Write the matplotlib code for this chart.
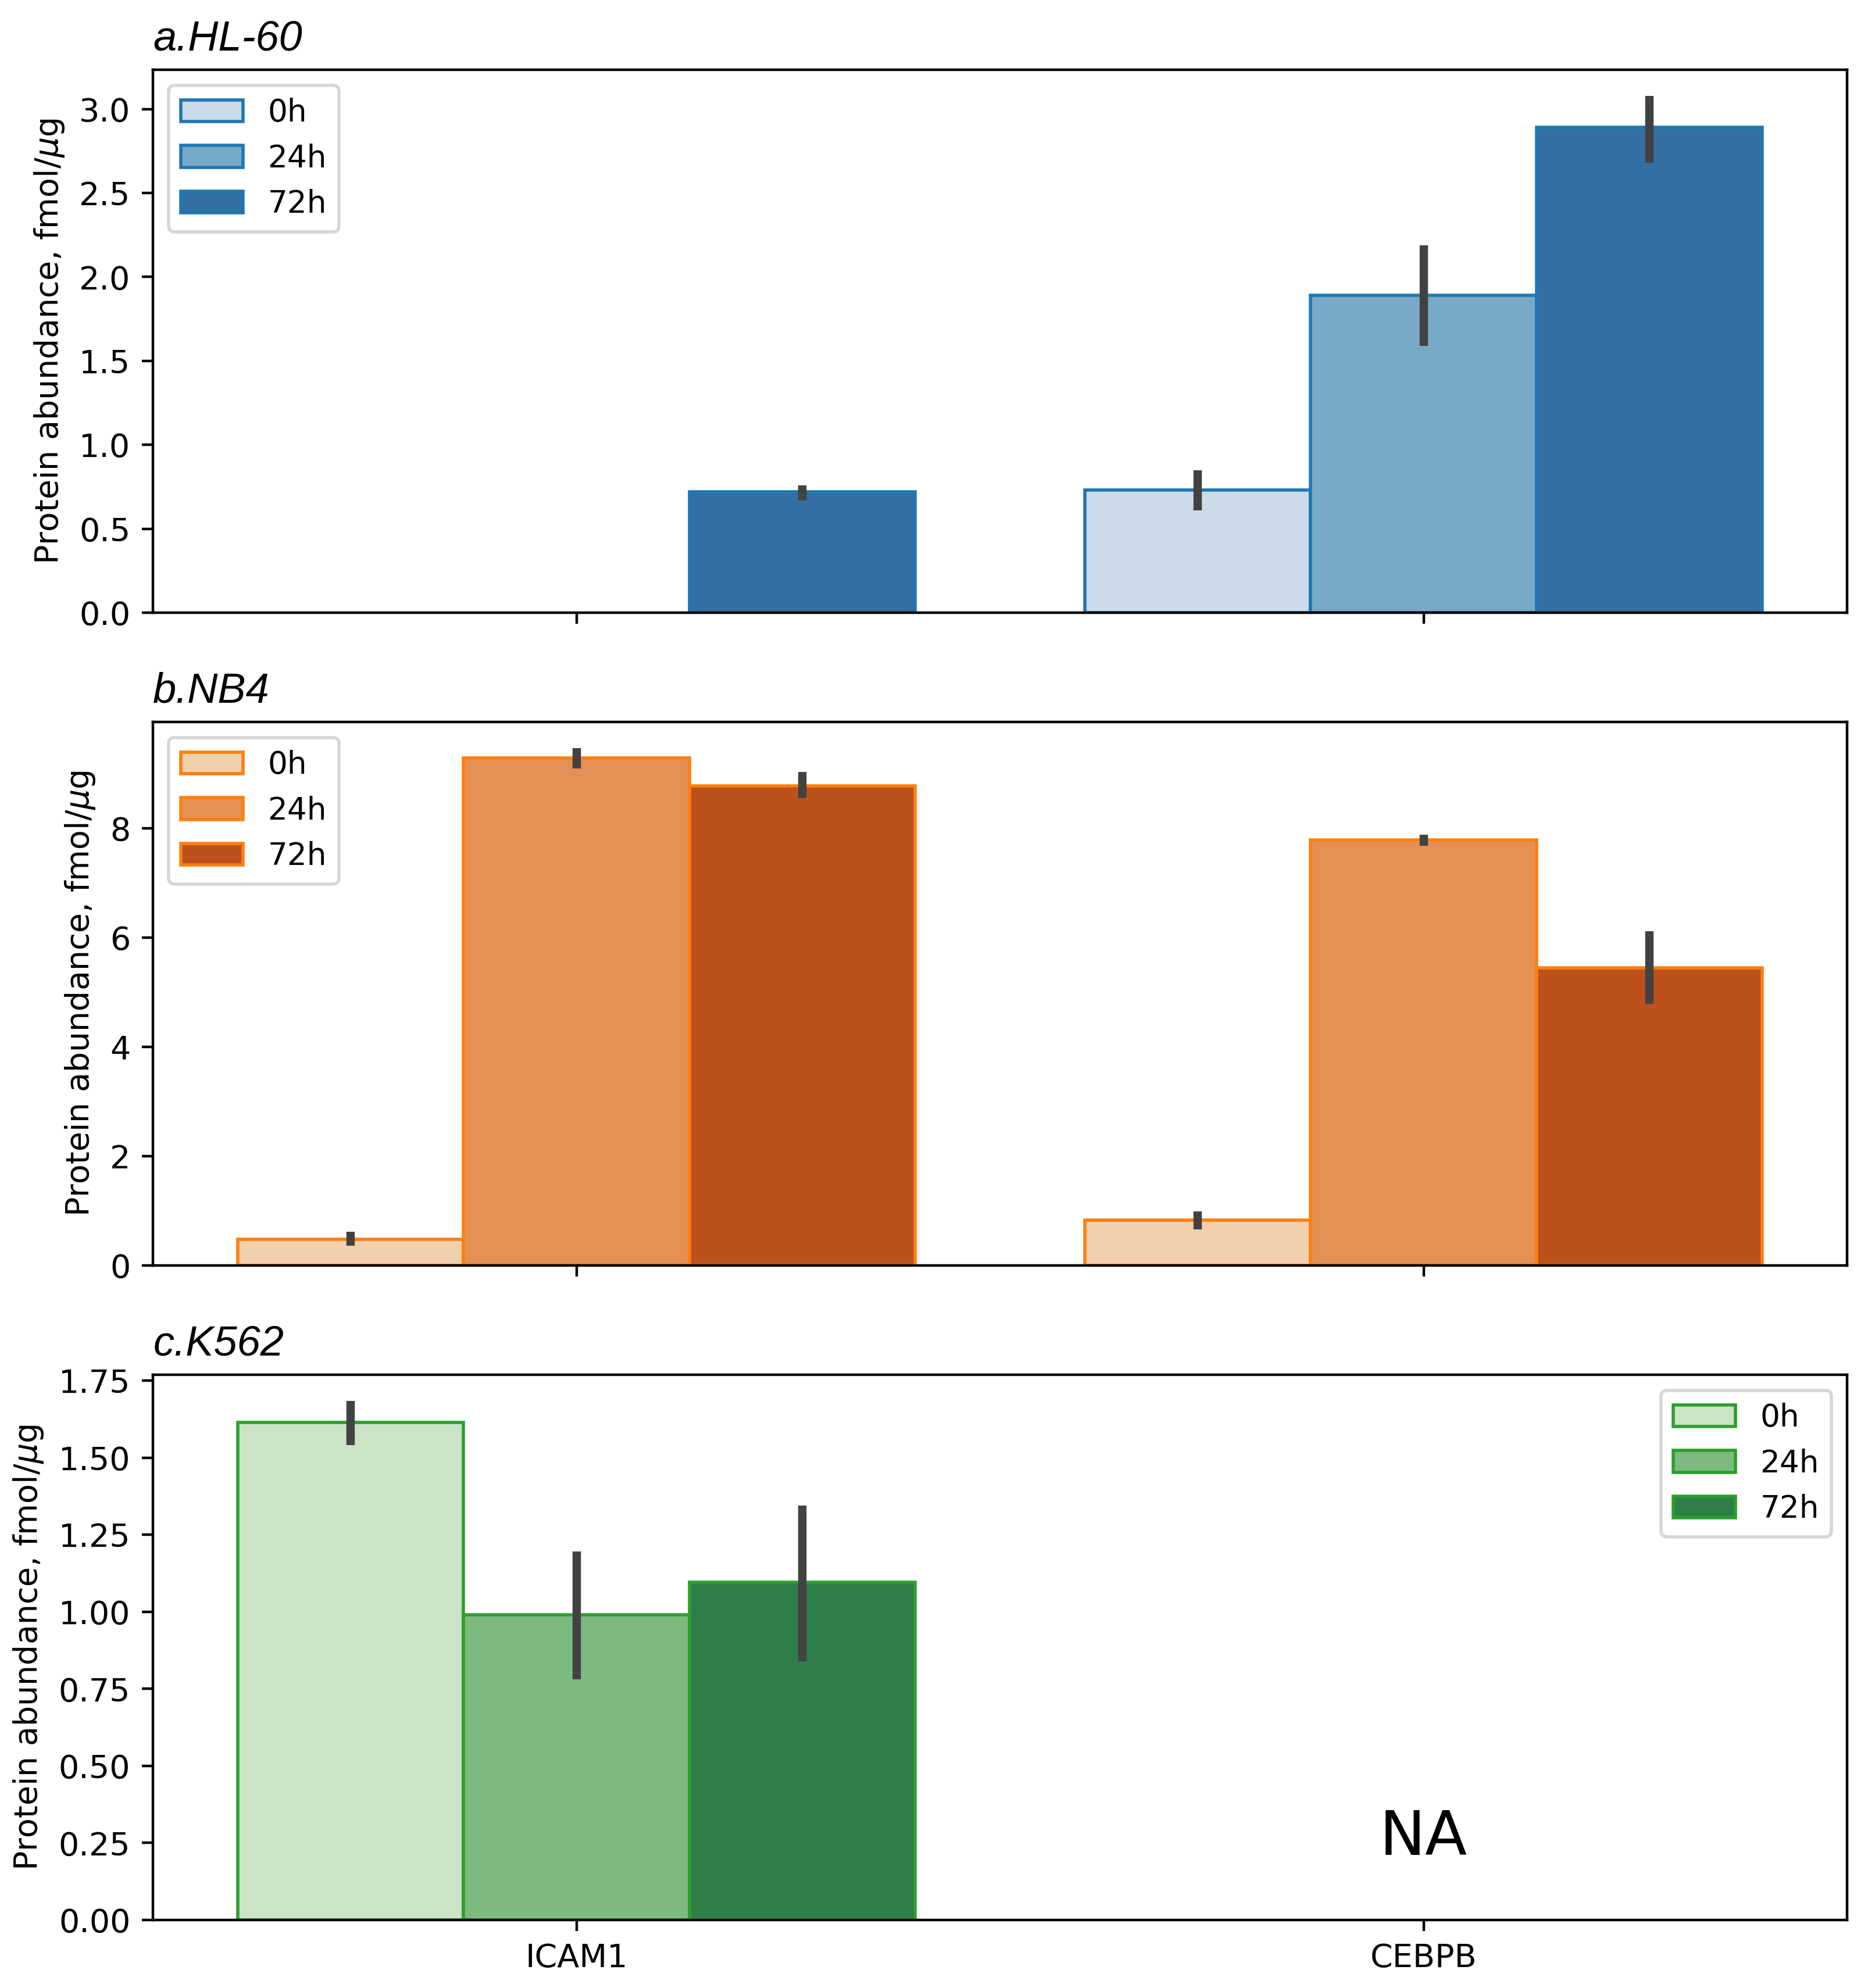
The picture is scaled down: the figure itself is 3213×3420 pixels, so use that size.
import numpy as np
import matplotlib
matplotlib.use("Agg")
import matplotlib.pyplot as plt
import matplotlib.transforms as mtransforms
import seaborn as sns

genes = ["ICAM1", "CEBPB"]
times = ["0h", "24h", "72h"]

# mean values per time point, [ICAM1, CEBPB]
hl60_mean = {"0h": [np.nan, 0.73], "24h": [np.nan, 1.89], "72h": [0.72, 2.89]}
hl60_lo = {"0h": [np.nan, 0.61], "24h": [np.nan, 1.59], "72h": [0.67, 2.68]}
hl60_hi = {"0h": [np.nan, 0.85], "24h": [np.nan, 2.19], "72h": [0.76, 3.08]}

nb4_mean = {"0h": [0.48, 0.83], "24h": [9.29, 7.79], "72h": [8.78, 5.44]}
nb4_lo = {"0h": [0.36, 0.66], "24h": [9.09, 7.68], "72h": [8.55, 4.79]}
nb4_hi = {"0h": [0.61, 0.99], "24h": [9.47, 7.88], "72h": [9.03, 6.11]}

k562_mean = {"0h": [1.615, np.nan], "24h": [0.99, np.nan], "72h": [1.095, np.nan]}
k562_lo = {"0h": [1.54, np.nan], "24h": [0.78, np.nan], "72h": [0.84, np.nan]}
k562_hi = {"0h": [1.685, np.nan], "24h": [1.195, np.nan], "72h": [1.345, np.nan]}

panels = [
    ("a.HL-60", hl60_mean, hl60_lo, hl60_hi, "Blues", "tab:blue", "upper left"),
    ("b.NB4", nb4_mean, nb4_lo, nb4_hi, "Oranges", "tab:orange", "upper left"),
    ("c.K562", k562_mean, k562_lo, k562_hi, "Greens", "tab:green", "upper right"),
]

fig = plt.figure(figsize=(3213 / 400, 3420 / 400), dpi=400)
positions = [
    [0.0819, 0.6918, 0.9069, 0.2731],
    [0.0819, 0.3635, 0.9069, 0.2733],
    [0.0819, 0.0342, 0.9069, 0.2743],
]

x = np.arange(len(genes))
w = 0.8 / 3
for i, (title, mean, lo, hi, pal, edge, loc) in enumerate(panels):
    ax = fig.add_axes(positions[i])
    colors = sns.color_palette(pal, 3, desat=0.75)
    for j, t in enumerate(times):
        m = np.array(mean[t], dtype=float)
        xs = x - 0.4 + w * (j + 0.5)
        ax.bar(xs, m, width=w, color=colors[j], edgecolor=edge,
               linewidth=1.0, label=t)
        for xx, a, b in zip(xs, lo[t], hi[t]):
            if not np.isnan(a):
                ax.plot([xx, xx], [a, b], color="#424242", lw=2.6,
                        solid_capstyle="butt")
    ax.set_xlim(-0.5, 1.5)
    ax.margins(y=0.05)
    ax.set_ylim(bottom=0)
    ax.set_xticks(x)
    if i == 2:
        ax.set_xticklabels(genes)
        ax.text(1, 0.15, "NA", transform=mtransforms.blended_transform_factory(ax.transData, ax.transAxes),
                ha="center", va="center", fontsize=19)
    else:
        ax.set_xticklabels([])
    ax.set_ylabel(r"Protein abundance, fmol/$\mu$g")
    ax.set_title(title, loc="left", fontstyle="italic", fontsize=13,
                 family="Liberation Sans")
    ax.legend(loc=loc, fontsize=9.6)

fig.savefig("out.png", dpi=400)
